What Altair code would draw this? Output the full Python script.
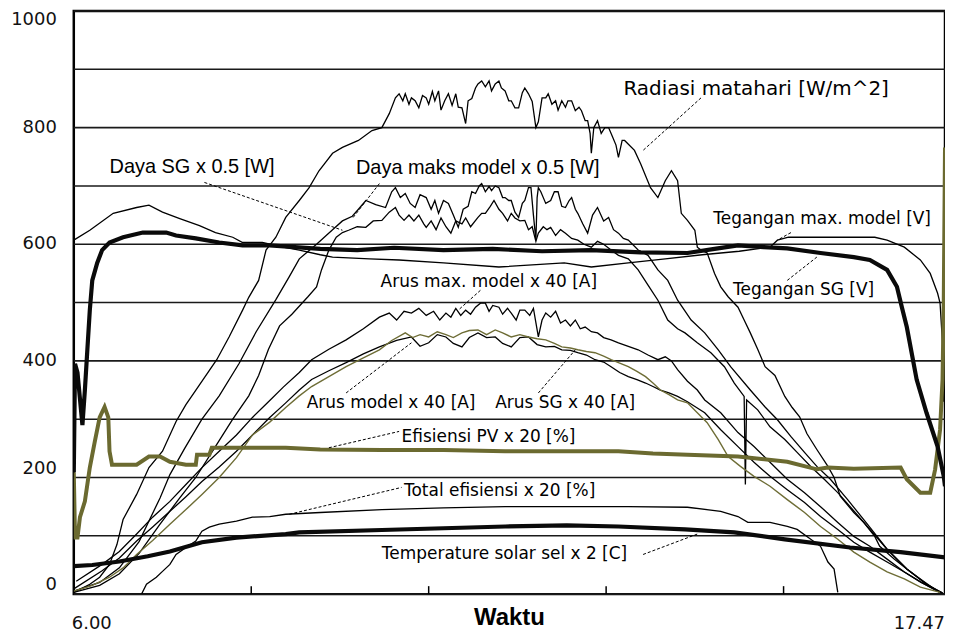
import altair as alt
import pandas as pd

# ---- x: minutes after 6.00 (axis runs 6.00 .. 17.47) ----
X_END = 707
x_label_t = [0, 707]
x_labels = ["6.00", "17.47"]
inner_ticks = [144, 288, 432, 576]
y_grid_values = [0, 100, 200, 300, 400, 500, 600, 700, 800, 900, 1000]
y_label_values = [0, 200, 400, 600, 800, 1000]
y_labels = ["0", "200", "400", "600", "800", "1000"]
x_title = "Waktu"

# ---- series ----
rad_t = [0, 13, 21, 29, 35, 40, 51, 61, 72, 83, 91, 102, 116, 126, 137, 142, 150, 156, 164, 172, 183, 191, 199, 210, 218, 231, 242, 250, 256,
         261, 264, 267, 269, 272, 274, 277, 280, 283, 286, 288, 291, 293, 296, 298, 301, 304, 307, 310, 312, 315, 318, 320, 323, 326, 328,
         331, 334, 337, 339, 342, 345, 347, 350, 353, 355, 358, 361, 364, 366, 369, 372, 375, 377, 380, 383, 385, 388, 391, 393, 396, 399,
         401, 404, 407, 410, 412, 415, 417, 419, 420, 422, 425, 428, 431, 434, 437, 440, 442, 445, 447,
         455, 460, 468, 474, 480, 485, 490, 493, 498, 504, 506, 509, 514, 520, 525, 531, 539, 544, 549, 555, 561, 569, 577, 583, 589, 595,
         603, 612, 617, 622, 633, 641, 650, 654, 666, 676, 687, 701, 705]
rad_v = [3, 17, 29, 51, 85, 128, 171, 217, 245, 296, 325, 359, 402, 441, 487, 509, 538, 590, 612, 646, 675, 697, 726, 756, 766, 778, 795, 800, 824,
         851, 858, 846, 858, 840, 851, 846, 834, 855, 851, 840, 862, 846, 863, 830, 846, 858, 838, 858, 835, 834, 807, 846, 850, 868, 875,
         880, 870, 880, 863, 875, 880, 868, 863, 846, 846, 834, 834, 860, 868, 858, 845, 800, 810, 851, 851, 858, 840, 846, 830, 846, 835,
         846, 846, 829, 835, 829, 812, 812, 790, 756, 800, 812, 790, 800, 800, 785, 770, 749, 778, 778,
         761, 738, 697, 680, 709, 726, 709, 653, 641, 624, 595, 590, 585, 550, 527, 510, 492, 470, 448, 420, 390, 375, 339, 320, 304, 275,
         248, 219, 200, 168, 140, 123, 99, 82, 60, 43, 26, 5, 2]

dmax_t = [0, 21, 37, 53, 70, 78, 90, 104, 118, 134, 148, 164, 175, 183, 197, 210, 218, 226, 231, 237, 245, 253, 258, 261, 265, 269, 273,
          277, 281, 286, 290, 293, 296, 300, 304, 308, 312, 316, 320, 323, 326, 329, 331, 334, 337, 339, 342, 345, 348, 350, 353, 355, 358,
          361, 364, 366, 369, 371, 373, 375, 376, 377, 379, 383, 387, 390, 393, 396, 399, 402, 404, 407, 409, 413, 417, 421, 425, 430, 434,
          438, 442, 446, 450, 458, 466, 474, 482, 490, 501, 512, 523, 533, 549, 561, 571, 582, 593, 603, 614, 628, 644, 660, 676, 692, 705]
dmax_v = [5, 20, 45, 90, 165, 205, 250, 300, 340, 395, 450, 505, 545, 575, 600, 625, 640, 648, 660, 675, 668, 663, 690, 697, 680, 687, 670,
          663, 685, 680, 660, 675, 653, 675, 670, 650, 629, 660, 665, 690, 687, 700, 704, 690, 699, 692, 700, 697, 680, 680, 675, 675, 655,
          646, 670, 675, 697, 697, 650, 607, 680, 697, 690, 670, 675, 690, 690, 665, 663, 675, 680, 660, 653, 635, 619, 650, 663, 640, 646,
          625, 619, 610, 607, 590, 581, 556, 538, 504, 470, 448, 419, 390, 350, 321, 299, 270, 243, 219, 197, 162, 120, 77, 43, 17, 2]

dsg_t = [0, 21, 37, 53, 70, 86, 99, 114, 129, 142, 150, 158, 167, 177, 190, 197, 201, 207, 213, 218, 223, 230, 237, 243, 250, 256, 261,
         264, 268, 272, 276, 280, 284, 286, 290, 294, 298, 302, 306, 310, 315, 318, 322, 328, 331, 334, 338, 341, 345, 348, 352, 355, 358,
         362, 366, 369, 372, 375, 377, 381, 384, 387, 391, 395, 399, 404, 409, 414, 420, 425, 430, 436, 442, 450, 458, 466, 474, 482, 490,
         496, 506, 517, 528, 536, 544, 545, 546, 555, 565, 577, 587, 598, 609, 620, 630, 644, 660, 676, 692, 705]
dsg_v = [3, 15, 35, 70, 120, 165, 200, 250, 300, 340, 375, 420, 460, 480, 510, 527, 556, 590, 612, 620, 624, 630, 629, 640, 641, 655, 663,
         650, 641, 650, 640, 650, 635, 629, 640, 625, 645, 630, 619, 640, 635, 645, 630, 646, 653, 653, 665, 675, 660, 653, 640, 653, 645,
         640, 641, 625, 630, 605, 619, 630, 625, 629, 615, 625, 619, 610, 607, 600, 595, 605, 600, 590, 581, 575, 556, 530, 504, 470, 455,
         448, 431, 414, 390, 362, 339, 188, 333, 316, 287, 265, 243, 219, 197, 174, 150, 116, 77, 43, 17, 2]

vmax_t = [0, 13, 32, 51, 61, 72, 86, 102, 115, 129, 137, 153, 170, 183, 200, 210, 240, 264, 300, 345, 398, 420, 450, 480, 510, 540, 565,
          571, 580, 620, 650, 660, 674, 687, 695, 701, 703, 705, 706]
vmax_v = [607, 624, 653, 663, 667, 655, 644, 632, 620, 612, 603, 603, 595, 590, 582, 578, 575, 573, 568, 561, 568, 561, 568, 575, 582, 588, 595,
          607, 612, 612, 612, 607, 595, 573, 550, 516, 499, 430, 330]

vsg_t = [0, 1, 3, 7, 9, 11, 13, 15, 19, 23, 29, 40, 56, 75, 83, 99, 118, 137, 159, 200, 230, 260, 300, 340, 380, 420, 460, 498, 520, 539,
         560, 579, 606, 633, 646, 660, 668, 672, 676, 684, 692, 701, 706, 707]
vsg_v = [209, 395, 380, 290, 350, 419, 487, 538, 568, 590, 603, 612, 620, 620, 615, 610, 603, 598, 598, 592, 590, 594, 590, 592, 588, 590, 586,
         585, 592, 598, 595, 593, 585, 578, 573, 556, 527, 492, 458, 368, 311, 253, 202, 185]

amax_t = [2, 23, 37, 51, 64, 78, 91, 104, 118, 132, 145, 158, 170, 183, 193, 207, 221, 235, 248, 256, 262, 268, 274, 280, 286, 292, 297, 302,
          306, 310, 314, 318, 322, 326, 330, 334, 337, 340, 345, 348, 352, 355, 359, 362, 366, 370, 373, 377, 380, 383, 387, 391, 395, 399,
          403, 407, 411, 415, 420, 425, 430, 436, 442, 450, 458, 466, 474, 480, 485, 490, 498, 506, 512, 525, 539, 552, 565, 579, 593, 606,
          620, 633, 646, 660, 674, 687, 703]
amax_v = [22, 51, 73, 103, 132, 159, 188, 217, 245, 273, 303, 330, 355, 380, 402, 420, 436, 455, 475, 482, 470, 485, 482, 490, 478, 485, 470,
          482, 475, 490, 478, 487, 480, 492, 499, 499, 485, 495, 492, 480, 490, 482, 470, 487, 487, 478, 490, 441, 470, 482, 475, 485, 465, 470,
          460, 470, 455, 458, 450, 448, 440, 436, 431, 425, 419, 410, 402, 407, 400, 385, 365, 350, 333, 311, 277, 253, 226, 197, 174, 150,
          123, 99, 82, 60, 38, 21, 3]

amod_t = [0, 23, 37, 51, 64, 78, 91, 104, 118, 132, 145, 159, 172, 183, 193, 207, 221, 235, 248, 262, 274, 281, 288, 295, 302, 308, 315, 321,
          328, 335, 342, 348, 355, 362, 369, 376, 383, 390, 396, 403, 409, 416, 423, 430, 436, 443, 450, 457, 464, 470, 476, 483, 490, 498,
          512, 525, 539, 552, 565, 579, 593, 606, 620, 633, 646, 660, 674, 687, 703]
amod_v = [9, 40, 62, 91, 115, 142, 167, 193, 218, 245, 273, 303, 328, 350, 368, 383, 397, 412, 424, 435, 441, 425, 431, 445, 441, 430, 424, 440,
          448, 440, 441, 430, 424, 440, 441, 428, 424, 425, 419, 418, 414, 410, 402, 398, 390, 380, 373, 368, 362, 356, 350, 345, 339, 330,
          311, 282, 253, 226, 202, 179, 157, 133, 111, 89, 72, 55, 38, 21, 3]

asg_t = [0, 15, 29, 40, 51, 64, 78, 91, 104, 118, 132, 145, 159, 172, 183, 193, 207, 221, 235, 248, 258, 269, 275, 281, 288, 295, 302, 308,
         315, 321, 328, 335, 342, 348, 355, 362, 369, 376, 383, 390, 396, 403, 409, 416, 423, 430, 436, 443, 450, 457, 464, 470, 476, 483,
         490, 498, 506, 514, 523, 531, 541, 552, 565, 579, 593, 606, 620, 633, 646, 660, 674, 687, 703]
asg_v = [5, 15, 29, 45, 68, 92, 120, 145, 171, 200, 234, 273, 295, 320, 340, 356, 373, 390, 405, 419, 435, 448, 440, 445, 441, 450, 445, 440,
         448, 452, 453, 445, 453, 448, 441, 445, 441, 438, 436, 430, 424, 422, 419, 416, 414, 408, 402, 396, 390, 382, 373, 362, 350, 342,
         333, 328, 311, 294, 265, 236, 219, 202, 185, 162, 140, 116, 94, 72, 55, 38, 26, 12, 3]

effpv_t = [0, 1, 3, 5, 9, 13, 17, 21, 25, 28, 29, 31, 51, 61, 70, 78, 91, 99, 100, 110, 112, 145, 172, 200, 250, 300, 350, 400, 442, 470,
           498, 539, 579, 603, 612, 633, 671, 676, 687, 695, 699, 703, 705, 706, 707]
effpv_v = [209, 97, 97, 132, 159, 217, 261, 303, 321, 303, 245, 222, 222, 236, 236, 227, 222, 222, 239, 239, 251, 251, 251, 248, 247, 247,
           245, 245, 245, 241, 239, 236, 227, 214, 217, 215, 217, 197, 174, 174, 214, 282, 368, 504, 766]

efftot_t = [55, 59, 67, 72, 78, 83, 91, 99, 104, 110, 118, 132, 145, 159, 172, 200, 250, 300, 350, 400, 450, 498, 525, 539, 547, 565, 579,
            587, 606, 612, 617, 620]
efftot_v = [0, 17, 29, 39, 51, 68, 80, 91, 108, 115, 120, 125, 132, 133, 137, 140, 145, 148, 150, 150, 150, 149, 142, 133, 123, 123, 116,
            111, 82, 55, 43, 3]

temp_t = [0, 15, 37, 60, 78, 104, 132, 172, 183, 250, 300, 350, 400, 442, 496, 536, 577, 630, 671, 707]
temp_v = [48, 50, 56, 65, 73, 89, 97, 103, 106, 110, 113, 116, 118, 116, 111, 106, 94, 80, 72, 63]

# series name, times, values, style group
series = [
    ("Radiasi", rad_t, rad_v, "thin_black"),
    ("Daya maks model", dmax_t, dmax_v, "thin_black"),
    ("Daya SG", dsg_t, dsg_v, "thin_black"),
    ("Tegangan max model", vmax_t, vmax_v, "thin_black"),
    ("Arus max model", amax_t, amax_v, "thin_black"),
    ("Arus model", amod_t, amod_v, "thin_black"),
    ("Total efisiensi", efftot_t, efftot_v, "thin_black"),
    ("Arus SG", asg_t, asg_v, "thin_olive"),
    ("Efisiensi PV", effpv_t, effpv_v, "thick_olive"),
    ("Temperatur", temp_t, temp_v, "thick_black"),
    ("Tegangan SG", vsg_t, vsg_v, "thick_black"),
]
styles = {
    "thin_black": ("#000000", 1.3),
    "thin_olive": ("#6e6d36", 1.4),
    "thick_olive": ("#6b6a30", 4.0),
    "thick_black": ("#0a0a0a", 4.2),
}

rows = []
for name, ts, vs, grp in series:
    for i, (t, v) in enumerate(zip(ts, vs)):
        rows.append({"series": name, "group": grp, "t": t, "v": v, "i": i})
df = pd.DataFrame(rows)

# ---- annotations ----
label_big = ["Daya SG x 0.5 [W]", "Daya maks model x 0.5 [W]"]
label_big_t = [29, 229]
label_big_v = [732, 730]

label_rad = ["Radiasi matahari [W/m^2]"]
label_rad_t = [446]
label_rad_v = [867]

label_px = ["Tegangan max. model [V]", "Tegangan SG [V]", "Arus max. model x 40 [A]",
            "Arus model x 40 [A]", "Arus SG x 40 [A]", "Efisiensi PV x 20 [%]", "Total efisiensi x 20 [%]",
            "Temperature solar sel x 2 [C]"]
label_px_t = [519, 535, 249, 189, 342, 266, 268, 250]
label_px_v = [644, 521, 535, 328, 328, 270, 176, 68]

lead_t1 = [509, 106, 248, 582, 579, 330, 221, 377, 207, 175, 462]
lead_v1 = [851, 706, 704, 620, 538, 521, 345, 345, 251, 137, 68]
lead_t2 = [462, 218, 226, 571, 603, 312, 274, 407, 264, 266, 506]
lead_v2 = [761, 624, 644, 607, 578, 487, 431, 419, 279, 183, 103]

W, H = 874, 585
xs = alt.Scale(domain=[0, X_END], nice=False, zero=False)
ys = alt.Scale(domain=[0, 1000], nice=False)
AX = "DejaVu Sans"


def line_layer(grp):
    color, width = styles[grp]
    return alt.Chart(df).transform_filter(alt.datum.group == grp).mark_line(
        clip=True, color=color, strokeWidth=width, strokeJoin="miter").encode(
        x=alt.X("t:Q", scale=xs, axis=None),
        y=alt.Y("v:Q", scale=ys, axis=None),
        detail="series:N",
        order="i:Q",
    )


grid = alt.Chart(pd.DataFrame({"g": y_grid_values})).mark_rule(color="#1a1a1a", strokeWidth=1.6).encode(
    y=alt.Y("g:Q", scale=ys, axis=None), x=alt.value(0), x2=alt.value(W))

ylab_df = pd.DataFrame({"v": y_label_values, "label": y_labels})


def ylab_layer(cond, baseline):
    return alt.Chart(ylab_df).transform_filter(cond).mark_text(
        align="right", baseline=baseline, font=AX, fontSize=18, color="#111", dx=-17).encode(
        y=alt.Y("v:Q", scale=ys, axis=None), x=alt.value(0), text="label:N")


ylab_top = ylab_layer(alt.datum.v == 1000, "top")
ylab_bottom = ylab_layer(alt.datum.v <= 200, "bottom")
ylab_mid = ylab_layer((alt.datum.v > 200) & (alt.datum.v < 1000), "middle")

xlab_df = pd.DataFrame({"t": x_label_t, "label": x_labels})
xlab_left = alt.Chart(xlab_df).transform_filter(alt.datum.t == 0).mark_text(
    align="left", baseline="top", font=AX, fontSize=18, color="#111", dx=-2).encode(
    x=alt.X("t:Q", scale=xs, axis=None), y=alt.value(H + 21), text="label:N")
xlab_right = alt.Chart(xlab_df).transform_filter(alt.datum.t == X_END).mark_text(
    align="right", baseline="top", font=AX, fontSize=18, color="#111").encode(
    x=alt.X("t:Q", scale=xs, axis=None), y=alt.value(H + 21), text="label:N")

xtitle = alt.Chart(pd.DataFrame({"label": [x_title]})).mark_text(
    align="center", baseline="middle", font="Liberation Sans", fontSize=24, fontWeight="bold", color="#000").encode(
    x=alt.value(W / 2), y=alt.value(H + 24), text="label:N")

ticks = alt.Chart(pd.DataFrame({"t": inner_ticks})).mark_rule(color="black", strokeWidth=1.5).encode(
    x=alt.X("t:Q", scale=xs, axis=None), y=alt.value(H), y2=alt.value(H - 8))

leaders = alt.Chart(pd.DataFrame({"t1": lead_t1, "v1": lead_v1, "t2": lead_t2, "v2": lead_v2})).mark_rule(
    color="black", strokeWidth=1, strokeDash=[3, 2]).encode(
    x=alt.X("t1:Q", scale=xs, axis=None), y=alt.Y("v1:Q", scale=ys, axis=None), x2="t2:Q", y2="v2:Q")


def text_layer(labels, ts, vs, font, size):
    return alt.Chart(pd.DataFrame({"label": labels, "t": ts, "v": vs})).mark_text(
        align="left", baseline="middle", font=font, fontSize=size, color="black").encode(
        x=alt.X("t:Q", scale=xs, axis=None), y=alt.Y("v:Q", scale=ys, axis=None), text="label:N")


txt_big = text_layer(label_big, label_big_t, label_big_v, "Liberation Sans", 20)
txt_rad = text_layer(label_rad, label_rad_t, label_rad_v, "DejaVu Sans", 20)
txt_px = text_layer(label_px, label_px_t, label_px_v, "DejaVu Sans", 17)

chart = alt.layer(
    grid,
    line_layer("thin_black"),
    line_layer("thin_olive"),
    line_layer("thick_olive"),
    line_layer("thick_black"),
    ticks, leaders, txt_big, txt_rad, txt_px,
    ylab_top, ylab_bottom, ylab_mid, xlab_left, xlab_right, xtitle,
).properties(
    width=W, height=H,
    padding={"left": 66, "top": 2, "right": 0, "bottom": 38},
    autosize=alt.AutoSizeParams(type="none"),
    background="white",
).configure_view(stroke="black", strokeWidth=2.5)

chart.save("out.html", embed_options={"renderer": "svg", "actions": False})
